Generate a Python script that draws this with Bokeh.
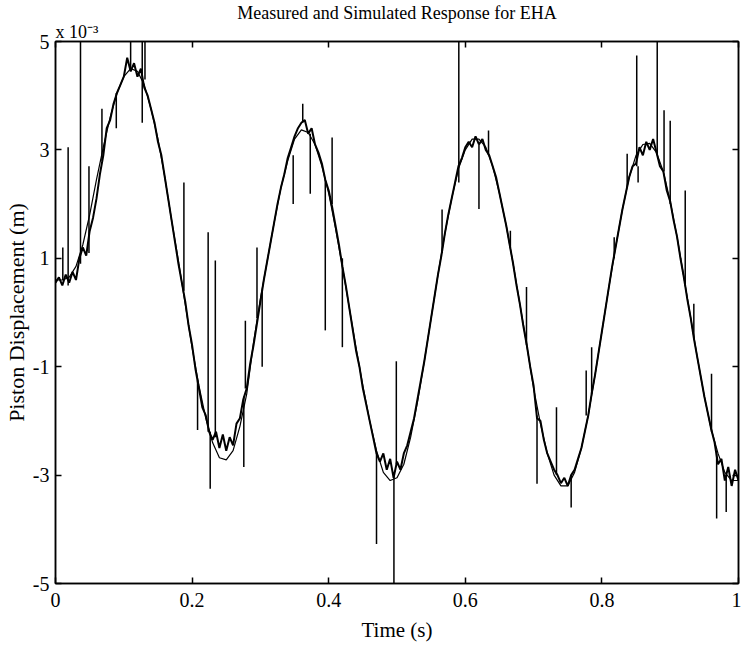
import numpy as np
from bokeh.plotting import figure
from bokeh.models import Range1d, LinearAxis, FixedTicker, Title
from bokeh.embed import file_html
from bokeh.resources import INLINE

FONT = "Liberation Serif"

title_text = "Measured and Simulated Response for EHA"
x_label = "Time (s)"
y_label = "Piston Displacement (m)"
scale_text = "x 10\u207b\u00b3"

x_ticks = [0, 0.2, 0.4, 0.6, 0.8, 1.0]
x_tick_labels = ["0", "0.2", "0.4", "0.6", "0.8", "1"]
y_ticks = [-5, -3, -1, 1, 3, 5]
y_tick_labels = ["-5", "-3", "-1", "1", "3", "5"]

# simulated response (x 10^-3 m), sampled every 0.01 s
sim_step = 0.01
sim_y = [0.6, 0.6, 0.65, 0.85, 1.25, 1.8, 2.45, 3.05, 3.6, 4.05,
         4.35, 4.5, 4.45, 4.2, 3.75, 3.2, 2.5, 1.7, 0.95, 0.15,
         -0.65, -1.35, -1.95, -2.4, -2.68, -2.72, -2.55, -2.1, -1.5, -0.55,
         0.25, 0.95, 1.65, 2.3, 2.8, 3.2, 3.37, 3.32, 3.1, 2.7,
         2.2, 1.55, 0.85, 0.1, -0.65, -1.35, -2.0, -2.55, -2.95, -3.1,
         -3.05, -2.8, -2.3, -1.65, -0.9, -0.1, 0.7, 1.45, 2.1, 2.65,
         3.0, 3.2, 3.2, 3.05, 2.7, 2.2, 1.6, 0.9, 0.15, -0.6,
         -1.4, -2.05, -2.6, -3.0, -3.2, -3.2, -2.95, -2.5, -1.9, -1.15,
         -0.35, 0.45, 1.2, 1.9, 2.5, 2.9, 3.1, 3.12, 2.95, 2.6,
         2.05, 1.4, 0.65, -0.1, -0.85, -1.55, -2.15, -2.6, -2.95, -3.1,
         -3.1]

# measured response (x 10^-3 m), sampled every 0.005 s
meas_step = 0.005
meas_y = [0.55, 0.65, 0.5, 0.7, 0.55, 0.75, 0.6, 1.0, 1.2, 1.05,
          1.5, 1.75, 2.1, 2.55, 2.9, 3.4, 3.55, 3.85, 4.05, 4.2,
          4.35, 4.7, 4.45, 4.6, 4.35, 4.5, 4.15, 4.0, 3.75, 3.5,
          3.15, 2.9, 2.5, 2.1, 1.7, 1.3, 0.9, 0.55, 0.2, -0.25,
          -0.6, -1.05, -1.4, -1.75, -1.9, -2.2, -2.35, -2.2, -2.5, -2.25,
          -2.55, -2.3, -2.45, -2.05, -1.95, -1.6, -1.4, -0.95, -0.6, -0.2,
          0.2, 0.6, 0.95, 1.3, 1.65, 2.0, 2.3, 2.55, 2.85, 3.05,
          3.25, 3.4, 3.5, 3.55, 3.3, 3.4, 3.1, 2.95, 2.75, 2.45,
          2.25, 1.95, 1.6, 1.25, 0.85, 0.5, 0.1, -0.3, -0.7, -1.0,
          -1.4, -1.7, -2.0, -2.3, -2.6, -2.75, -2.6, -2.9, -2.7, -3.05,
          -2.75, -2.9, -2.6, -2.45, -2.2, -1.95, -1.6, -1.25, -0.9, -0.5,
          -0.1, 0.3, 0.7, 1.05, 1.45, 1.8, 2.1, 2.4, 2.7, 2.85,
          3.05, 3.15, 3.05, 3.25, 3.1, 3.2, 3.0, 2.9, 2.7, 2.5,
          2.2, 1.9, 1.6, 1.25, 0.9, 0.5, 0.15, -0.25, -0.6, -1.0,
          -1.35, -1.95, -2.0, -2.35, -2.6, -2.75, -2.9, -3.0, -3.15, -3.05,
          -3.2, -3.0, -2.9, -2.7, -2.5, -2.2, -1.9, -1.5, -1.15, -0.75,
          -0.35, 0.05, 0.45, 0.85, 1.2, 1.55, 1.9, 2.2, 2.5, 2.7,
          2.75, 3.05, 2.9, 3.15, 3.0, 3.2, 2.95, 2.7, 2.6, 2.25,
          2.05, 1.7, 1.4, 1.0, 0.65, 0.25, -0.1, -0.5, -0.85, -1.2,
          -1.55, -1.85, -2.15, -2.4, -2.8, -2.7, -3.1, -2.85, -3.2, -2.9,
          -3.1]

# single-sample spikes in the measured signal: time, from value, to value
spike_t = [0.0107, 0.0185, 0.0366, 0.049, 0.068, 0.089, 0.110, 0.127, 0.131,
           0.188, 0.208, 0.2235, 0.2265, 0.234, 0.2757, 0.278, 0.295, 0.3026,
           0.348, 0.362, 0.373, 0.395, 0.405, 0.420, 0.470, 0.4955, 0.499,
           0.566, 0.5905, 0.620, 0.634, 0.666, 0.6896, 0.705, 0.7335, 0.755,
           0.777, 0.785, 0.818, 0.837, 0.851, 0.853, 0.881, 0.891, 0.900,
           0.922, 0.9346, 0.9605, 0.968, 0.982]
spike_from = [0.6, 0.5, 0.9, 1.1, 2.8, 4.05, 4.45, 3.5, 4.3,
              0.4, -1.25, -2.2, -2.2, -2.3, -1.55, -1.4, -0.1, 0.4,
              2.9, 3.5, 3.3, 2.45, 2.0, 1.0, -2.6, -3.0, -2.8,
              1.1, 2.4, 3.1, 2.9, 1.2, -0.6, -1.9, -3.0, -3.0,
              -1.9, -1.5, 1.0, 2.3, 2.7, 2.7, 2.9, 2.6, 2.0,
              0.5, -0.5, -2.2, -2.6, -3.0]
spike_to = [1.2, 3.05, 5.0, 2.7, 3.76, 3.4, 5.0, 5.0, 5.0,
            2.4, -2.17, 1.48, -3.25, 0.96, -2.85, -0.15, 1.2, -1.0,
            2.0, 3.85, 2.19, -0.33, 3.23, -0.64, -4.27, -5.0, -0.9,
            1.9, 5.0, 1.91, 3.36, 1.51, 0.47, -3.16, -1.75, -3.6,
            -1.07, -0.64, 1.39, 2.93, 4.74, 2.4, 5.0, 3.73, 3.54,
            2.25, 0.16, -1.13, -3.8, -3.68]

sim_t = np.arange(len(sim_y)) * sim_step
meas_t = np.arange(len(meas_y)) * meas_step

p = figure(width=741, height=651, output_backend="svg", toolbar_location=None,
           x_range=Range1d(0, 1), y_range=Range1d(-5, 5),
           min_border_left=55, min_border_right=3, min_border_top=41, min_border_bottom=68,
           background_fill_color="white", border_fill_color="white")
p.outline_line_color = "black"
p.outline_line_width = 1.5
p.xgrid.visible = False
p.ygrid.visible = False

def style_axis(ax, ticks, labels, show_labels=True):
    ax.ticker = FixedTicker(ticks=ticks)
    ax.major_label_overrides = {t: l for t, l in zip(ticks, labels)}
    ax.major_tick_in = 6
    ax.major_tick_out = 0
    ax.minor_tick_in = 0
    ax.minor_tick_out = 0
    ax.axis_line_color = "black"
    ax.axis_line_width = 1.5
    ax.major_tick_line_color = "black"
    ax.major_tick_line_width = 1.5
    ax.major_label_text_font = FONT
    ax.major_label_text_color = "black"
    ax.axis_label_text_color = "black"
    if show_labels:
        ax.major_label_text_font_size = "20px"
        ax.major_label_standoff = 6
    else:
        ax.major_label_text_font_size = "1px"
        ax.major_label_text_color = None
        ax.major_label_standoff = 0

style_axis(p.xaxis[0], x_ticks, x_tick_labels)
style_axis(p.yaxis[0], y_ticks, y_tick_labels)
p.xaxis[0].major_label_standoff = 9
p.xaxis[0].axis_label = x_label
p.xaxis[0].axis_label_text_font = FONT
p.xaxis[0].axis_label_text_font_size = "21px"
p.xaxis[0].axis_label_text_font_style = "normal"
p.xaxis[0].axis_label_standoff = 8
p.yaxis[0].axis_label = y_label
p.yaxis[0].axis_label_text_font = FONT
p.yaxis[0].axis_label_text_font_size = "22px"
p.yaxis[0].axis_label_text_font_style = "normal"
p.yaxis[0].axis_label_standoff = 1

top_ax = LinearAxis()
right_ax = LinearAxis()
style_axis(top_ax, x_ticks, x_tick_labels, show_labels=False)
style_axis(right_ax, y_ticks, y_tick_labels, show_labels=False)
p.add_layout(top_ax, "above")
p.add_layout(right_ax, "right")

p.add_layout(Title(text=scale_text, align="left", text_font=FONT, text_font_size="18px",
                   text_font_style="normal", text_color="black", standoff=-1), "above")
p.title.text = title_text
p.title.align = "center"
p.title.text_font = FONT
p.title.text_font_size = "18px"
p.title.text_font_style = "normal"
p.title.text_color = "black"
p.title.standoff = -5

# measured
p.line(meas_t, meas_y, line_color="black", line_width=2.0)
p.segment(x0=spike_t, y0=spike_from, x1=spike_t, y1=spike_to, line_color="black", line_width=1.5)
# simulated
p.line(sim_t, sim_y, line_color="black", line_width=1.2)

open("out.html", "w").write(file_html(p, INLINE))
